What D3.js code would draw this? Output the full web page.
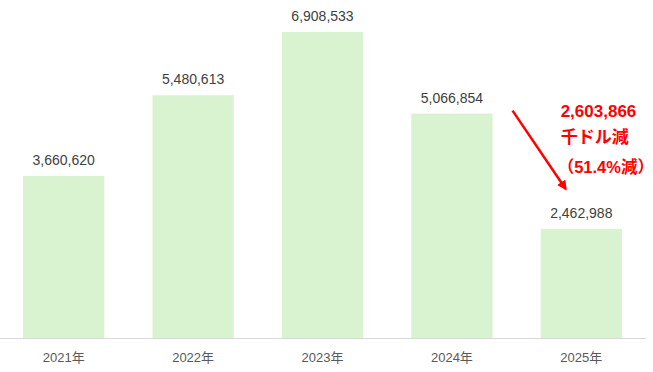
<!DOCTYPE html>
<html>
<head>
<meta charset="utf-8">
<script src="https://cdn.jsdelivr.net/npm/d3@7"></script>
<style>
  body { margin: 0; background: #fff; }
  svg { font-family: "Liberation Sans", Arial, "Noto Sans CJK JP", sans-serif; }
</style>
</head>
<body>
<svg id="chart" width="653" height="372"></svg>
<script>
// data
var years = ["2021年", "2022年", "2023年", "2024年", "2025年"];
var values = [3660620, 5480613, 6908533, 5066854, 2462988];
var noteLines = ["2,603,866", "千ドル減", "（51.4%減）"];

var svg = d3.select("#chart"),
    baseY = 338;

var x = d3.scaleBand()
    .domain(years)
    .range([-1, 646])
    .paddingInner(0.372)
    .paddingOuter(0.186);

var y = d3.scaleLinear()
    .domain([0, 7000000])
    .range([baseY, 28]);

var fmt = d3.format(",");

// bars
svg.append("g").selectAll("rect")
    .data(values)
    .enter().append("rect")
    .attr("x", function (d, i) { return x(years[i]); })
    .attr("y", function (d) { return y(d); })
    .attr("width", x.bandwidth())
    .attr("height", function (d) { return baseY - y(d); })
    .attr("fill", "#d9f2d0");

// value labels
svg.append("g").selectAll("text")
    .data(values)
    .enter().append("text")
    .attr("x", function (d, i) { return x(years[i]) + x.bandwidth() / 2; })
    .attr("y", function (d) { return y(d) - 11; })
    .attr("text-anchor", "middle")
    .style("font-size", "14px")
    .attr("fill", "#404040")
    .text(function (d) { return fmt(d); });

// baseline + x axis
var axis = svg.append("g")
    .attr("transform", "translate(0," + baseY + ")")
    .call(d3.axisBottom(x).tickSize(0).tickPadding(15));
axis.select(".domain").attr("d", "M0,0.5H646").attr("stroke", "#d9d9d9");
axis.selectAll("text")
    .style("font-size", "13px")
    .style("font-family", "'Liberation Sans', Arial, 'Noto Sans CJK JP', sans-serif")
    .attr("fill", "#595959");

// annotation arrow
svg.append("defs").append("marker")
    .attr("id", "head")
    .attr("viewBox", "0 0 10 10")
    .attr("refX", 8).attr("refY", 5)
    .attr("markerWidth", 4).attr("markerHeight", 4)
    .attr("orient", "auto")
    .append("path")
    .attr("d", "M0,0L10,5L0,10z")
    .attr("fill", "#ff0000");

var x24 = x(years[3]) + x.bandwidth(),
    x25 = x(years[4]);
svg.append("line")
    .attr("x1", x24 + 20).attr("y1", y(values[3]) - 3)
    .attr("x2", x25 + 25).attr("y2", y(values[4]) - 40)
    .attr("stroke", "#ff0000")
    .attr("stroke-width", 2.5)
    .attr("marker-end", "url(#head)");

// annotation text
var noteX = x25 + 20;
svg.append("g").selectAll("text")
    .data(noteLines)
    .enter().append("text")
    .attr("x", function (d, i) { return i == 2 ? noteX - 3 : noteX; })
    .attr("y", function (d, i) { return [117, 143, 173][i]; })
    .style("font-size", function (d, i) { return i == 2 ? "16.5px" : "17px"; })
    .style("font-weight", "bold")
    .attr("fill", "#ff0000")
    .text(function (d) { return d; });
</script>
</body>
</html>
